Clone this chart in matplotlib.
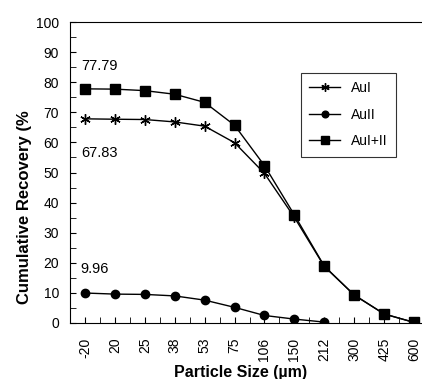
import numpy as np
import matplotlib
matplotlib.use('Agg')
import matplotlib.pyplot as plt

plt.rcParams['font.family'] = ['Liberation Sans', 'DejaVu Sans']

# particle size classes (um) and cumulative recovery (%)
sizes = ['-20', '20', '25', '38', '53', '75', '106', '150', '212', '300', '425', '600']
au1 = [67.83, 67.7, 67.6, 66.8, 65.4, 59.9, 49.7, 35.1, 18.8, 9.3, 3.0, 0.2]
au2 = [9.96, 9.6, 9.5, 9.0, 7.6, 5.2, 2.5, 1.3, 0.3]
au12 = [77.79, 77.7, 77.2, 76.0, 73.3, 65.7, 52.3, 35.9, 18.9, 9.3, 3.0, 0.2]

fig = plt.figure(figsize=(4.22, 3.79), dpi=100)
ax = fig.add_axes([70/422, 1 - 323/379, 362/422, 301/379])

x = np.arange(len(sizes))
ax.plot(x, au1, '-', color='black', lw=1, marker=(6, 2, 0), ms=7.5, mew=1, label='AuI')
ax.plot(x[:len(au2)], au2, '-', color='black', lw=1, marker='o', ms=6, label='AuII')
ax.plot(x, au12, '-', color='black', lw=1, marker='s', ms=6.5, label='AuI+II')

ax.text(-0.12, 84, '77.79', fontsize=10.5)
ax.text(-0.12, 55.2, '67.83', fontsize=10.5)
ax.text(-0.15, 16.6, '9.96', fontsize=10.5)

ax.set_xlim(-0.5, 11.6)
ax.set_ylim(0, 100)
ax.set_yticks(np.arange(0, 101, 10))
ax.set_yticks(np.arange(0, 101, 5), minor=True)
ax.set_xticks(x)
ax.set_xticklabels(sizes, rotation=90)
ax.set_xticks(np.arange(-0.5, 11.6, 1), minor=True)
ax.tick_params(axis='both', which='both', direction='in', labelsize=10, length=4)
ax.tick_params(axis='x', which='major', pad=10.5)
ax.tick_params(axis='y', which='major', pad=8)
ax.spines['right'].set_visible(False)

ax.set_xlabel('Particle Size (\u00b5m)', fontsize=11.5, fontweight='bold')
ax.set_ylabel('Cumulative Recovery (%', fontsize=12, fontweight='bold')
ax.xaxis.set_label_coords(0.47, -0.14)
ax.yaxis.set_label_coords(-0.105, 0.385)

leg = ax.legend(loc='upper left', bbox_to_anchor=(301/422, 1 - 73/379), bbox_transform=fig.transFigure,
                fontsize=10, frameon=True, fancybox=False, edgecolor='black', handlelength=2.2,
                borderpad=0.6, labelspacing=0.9, markerscale=0.8, borderaxespad=0)
leg.get_frame().set_linewidth(0.8)

plt.savefig('out.png', dpi=100)
